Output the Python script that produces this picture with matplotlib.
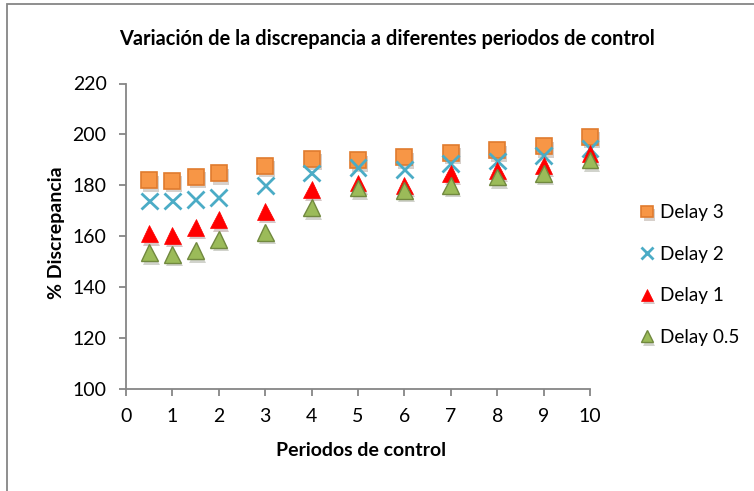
import matplotlib.pyplot as plt
import matplotlib.patheffects as pe
from matplotlib.patches import Rectangle

plt.rcParams['font.family'] = ['Lato', 'DejaVu Sans']

periodos = [0.5, 1, 1.5, 2, 3, 4, 5, 6, 7, 8, 9, 10]
delay_3 = [182.0, 181.7, 183.3, 184.8, 187.6, 190.4, 189.8, 191.1, 192.8, 193.7, 195.3, 199.0]
delay_2 = [173.8, 173.8, 174.5, 175.2, 180.0, 184.8, 187.0, 186.1, 188.5, 189.5, 191.8, 194.4]
delay_1 = [161.0, 160.4, 163.4, 166.5, 169.8, 178.3, 180.9, 180.0, 184.6, 185.9, 187.8, 192.4]
delay_05 = [153.5, 152.8, 154.3, 158.7, 161.4, 171.2, 179.0, 178.0, 180.0, 183.3, 184.6, 190.0]

fig = plt.figure(figsize=(7.54, 4.91), dpi=100)
# marco del grafico
fig.patches.append(Rectangle((7 / 754, -0.1), 1.2, 1 - 4 / 491 + 0.1, transform=fig.transFigure,
                             fill=False, edgecolor='#868686', linewidth=1.3))
ax = fig.add_axes([126 / 754, (491 - 389) / 491, 464 / 754, 305.5 / 491])

sombra = [pe.SimplePatchShadow(offset=(1.5, -2.5), alpha=0.22), pe.Normal()]
ax.plot(periodos, delay_3, 's', ms=11.5, mfc='#F79646', mec='#E07B2E', mew=1.2,
        label='Delay 3', path_effects=sombra, clip_on=False)
ax.plot(periodos, delay_2, 'x', ms=12, mec='#4BACC6', mew=2,
        label='Delay 2', path_effects=sombra, clip_on=False)
ax.plot(periodos, delay_1, '^', ms=12, mfc='#FF0000', mec='#FF0000', mew=0.5,
        label='Delay 1', path_effects=sombra, clip_on=False)
ax.plot(periodos, delay_05, '^', ms=12, mfc='#9BBB59', mec='#71893F', mew=1,
        label='Delay 0.5', path_effects=sombra, clip_on=False)

ax.set_xlim(0, 10)
ax.set_ylim(100, 220)
ax.set_xticks(range(0, 11))
ax.set_yticks(range(100, 221, 20))
for s in ['top', 'right']:
    ax.spines[s].set_visible(False)
for s in ['left', 'bottom']:
    ax.spines[s].set_color('#868686')
    ax.spines[s].set_linewidth(1.3)
ax.tick_params(axis='both', colors='#868686', labelcolor='black', labelsize=14,
               length=5, width=1.3)
ax.tick_params(axis='y', pad=9)
ax.tick_params(axis='x', pad=9)

fig.text(387 / 754, 1 - 39 / 491, 'Variación de la discrepancia a diferentes periodos de control',
         ha='center', va='center', fontsize=14.4, fontweight='bold')
fig.text(361 / 754, 1 - 450 / 491, 'Periodos de control', ha='center', va='center',
         fontsize=14, fontweight='bold')
fig.text(57 / 754, 1 - 233 / 491, '% Discrepancia', ha='center', va='center',
         fontsize=14, fontweight='bold', rotation=90)

ax.legend(loc='center left', bbox_to_anchor=(1.07, 0.373), frameon=False, fontsize=13.6,
          labelspacing=1.3, handlelength=0.8, handletextpad=0.3, markerscale=0.7)

fig.savefig('out.png', dpi=100)
